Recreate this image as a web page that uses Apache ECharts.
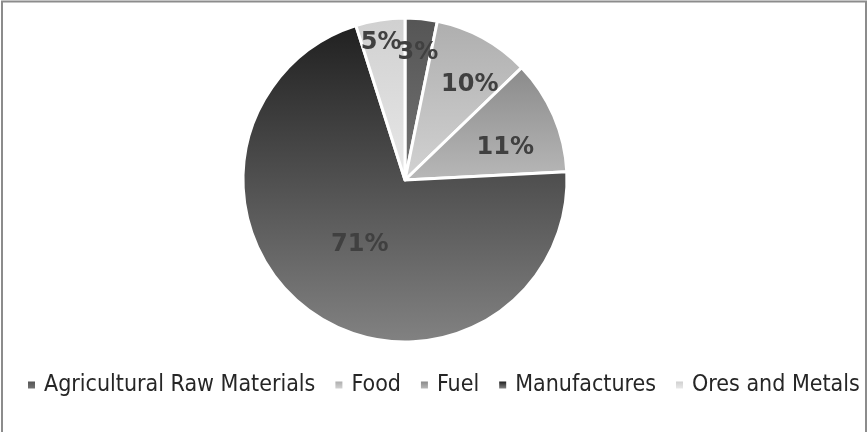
<!DOCTYPE html>
<html>
<head>
<meta charset="utf-8">
<script src="https://cdn.jsdelivr.net/npm/echarts@6/dist/echarts.min.js"></script>
<style>
  html, body { margin: 0; padding: 0; background: #fff; }
  #chart { width: 868px; height: 432px; }
</style>
</head>
<body>
<div id="chart"></div>
<script>
const categories = ['Agricultural Raw Materials', 'Food', 'Fuel', 'Manufactures', 'Ores and Metals'];
const shares = [3.2, 9.6, 11.4, 70.9, 4.9];

// gradient stops top -> bottom for each slice
const sliceColors = [
  ['#555555', '#737373'],
  ['#aeaeae', '#d2d2d2'],
  ['#8a8a8a', '#b8b8b8'],
  ['#202020', '#828282'],
  ['#d0d0d0', '#e8e8e8'],
];
// label placement: fraction of radius, and angle nudge in degrees
const labelRadius = [0.79, 0.71, 0.65, 0.49, 0.86];
const labelNudge = [0, 5.5, 5.5, 0, -1];

const CX = 405;
const CY = 180;
const R = 162;

const total = shares.reduce((a, b) => a + b, 0);

function labelPos(i) {
  let before = 0;
  for (let j = 0; j < i; j++) before += shares[j];
  const mid = ((before + shares[i] / 2) / total) * 360 + labelNudge[i];
  const rad = (mid * Math.PI) / 180;
  const d = labelRadius[i] * R;
  return [CX + d * Math.sin(rad), CY - d * Math.cos(rad)];
}

const chart = echarts.init(document.getElementById('chart'));

chart.setOption({
  animation: false,
  backgroundColor: '#fff',
  graphic: [
    {
      type: 'rect',
      shape: { x: 2, y: 1.5, width: 864, height: 440 },
      style: { fill: 'none', stroke: '#8c8c8c', lineWidth: 2 },
      silent: true,
    },
  ],
  legend: {
    data: categories,
    left: 28,
    top: 373,
    padding: 0,
    icon: 'rect',
    itemWidth: 7,
    itemHeight: 7,
    itemGap: 20,
    itemStyle: { borderWidth: 0 },
    textStyle: {
      fontFamily: 'DejaVu Sans Condensed',
      fontSize: 23,
      lineHeight: 24,
      color: '#262626',
      padding: [0, 0, 0, 4],
    },
  },
  series: [
    {
      type: 'pie',
      center: [CX, CY],
      radius: [0, R],
      startAngle: 90,
      clockwise: true,
      avoidLabelOverlap: false,
      itemStyle: {
        borderColor: '#ffffff',
        borderWidth: 3,
      },
      label: {
        show: true,
        position: 'inside',
        formatter: (p) => Math.round(p.percent) + '%',
        fontFamily: 'DejaVu Sans',
        fontWeight: 'bold',
        fontSize: 24,
        color: '#404040',
      },
      labelLayout: (p) => {
        const pos = labelPos(p.dataIndex);
        return { x: pos[0], y: pos[1], align: 'center', verticalAlign: 'middle' };
      },
      emphasis: { disabled: true },
      data: categories.map((name, i) => ({
        name,
        value: shares[i],
        itemStyle: {
          color: {
            type: 'linear',
            x: 0,
            y: 0,
            x2: 0,
            y2: 1,
            colorStops: [
              { offset: 0, color: sliceColors[i][0] },
              { offset: 1, color: sliceColors[i][1] },
            ],
            global: false,
          },
        },
      })),
    },
  ],
});
</script>
</body>
</html>
